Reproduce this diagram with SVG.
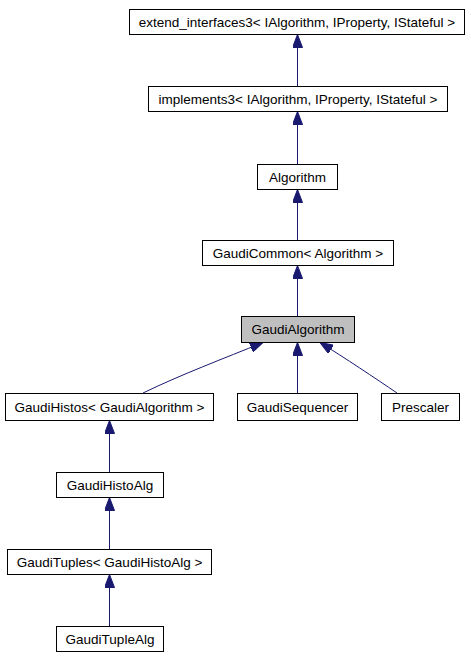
<svg xmlns="http://www.w3.org/2000/svg" width="471" height="659" viewBox="0 0 471 659">
<style>
.box{fill:#ffffff;stroke:#000000;stroke-width:1}
.sel{fill:#bfbfbf;stroke:#000000;stroke-width:1}
.lbl{font-family:"Liberation Sans",Arial,sans-serif;font-size:13.5px;fill:#000000;text-anchor:middle}
.edge{fill:none;stroke:#191970;stroke-width:1}
</style>
<defs>
<marker id="arr" markerUnits="userSpaceOnUse" viewBox="0 0 13 10" refX="13" refY="5" markerWidth="13" markerHeight="10" orient="auto">
<path d="M0,0 L13,5 L0,10 z" fill="#191970" stroke="#191970"/>
</marker>
</defs>
<rect width="471" height="659" fill="#ffffff"/>
<g id="edges">
<path class="edge" d="M297.5,86.5 L297.5,34.5" marker-end="url(#arr)"/>
<path class="edge" d="M297.5,164.5 L297.5,111.5" marker-end="url(#arr)"/>
<path class="edge" d="M297.5,240.5 L297.5,189.5" marker-end="url(#arr)"/>
<path class="edge" d="M297.5,316.5 L297.5,265.5" marker-end="url(#arr)"/>
<path class="edge" d="M297.5,393.5 L297.5,342.5" marker-end="url(#arr)"/>
<path class="edge" d="M143,393 C180,375 225,358 263,342.5" marker-end="url(#arr)"/>
<path class="edge" d="M397,393 C375,378 345,358 320,342.5" marker-end="url(#arr)"/>
<path class="edge" d="M109.5,472.5 L109.5,420.5" marker-end="url(#arr)"/>
<path class="edge" d="M109.5,549.5 L109.5,497.5" marker-end="url(#arr)"/>
<path class="edge" d="M109.5,626.5 L109.5,574.5" marker-end="url(#arr)"/>
</g>
<g id="extend_interfaces3">
<rect class="box" x="129.5" y="9.5" width="335" height="25"/>
<text class="lbl" x="297" y="26.5">extend_interfaces3&lt; IAlgorithm, IProperty, IStateful &gt;</text>
</g>
<g id="implements3">
<rect class="box" x="148.5" y="86.5" width="299" height="25"/>
<text class="lbl" x="298" y="103.5">implements3&lt; IAlgorithm, IProperty, IStateful &gt;</text>
</g>
<g id="Algorithm">
<rect class="box" x="257.5" y="164.5" width="80" height="25"/>
<text class="lbl" x="297.5" y="181.5">Algorithm</text>
</g>
<g id="GaudiCommon">
<rect class="box" x="202.5" y="240.5" width="191" height="25"/>
<text class="lbl" x="298" y="257.5">GaudiCommon&lt; Algorithm &gt;</text>
</g>
<g id="GaudiAlgorithm">
<rect class="sel" x="241.5" y="316.5" width="113" height="26"/>
<text class="lbl" x="298" y="334">GaudiAlgorithm</text>
</g>
<g id="GaudiHistos">
<rect class="box" x="5.5" y="393.5" width="208" height="27"/>
<text class="lbl" x="109.5" y="411.5">GaudiHistos&lt; GaudiAlgorithm &gt;</text>
</g>
<g id="GaudiSequencer">
<rect class="box" x="237.5" y="393.5" width="120" height="27"/>
<text class="lbl" x="297.5" y="411.5">GaudiSequencer</text>
</g>
<g id="Prescaler">
<rect class="box" x="381.5" y="393.5" width="78" height="27"/>
<text class="lbl" x="420.5" y="411.5">Prescaler</text>
</g>
<g id="GaudiHistoAlg">
<rect class="box" x="56.5" y="472.5" width="107" height="25"/>
<text class="lbl" x="110" y="489.5">GaudiHistoAlg</text>
</g>
<g id="GaudiTuples">
<rect class="box" x="7.5" y="549.5" width="204" height="25"/>
<text class="lbl" x="109.5" y="566.5">GaudiTuples&lt; GaudiHistoAlg &gt;</text>
</g>
<g id="GaudiTupleAlg">
<rect class="box" x="56.5" y="626.5" width="107" height="25"/>
<text class="lbl" x="110" y="643.5">GaudiTupleAlg</text>
</g>
</svg>
